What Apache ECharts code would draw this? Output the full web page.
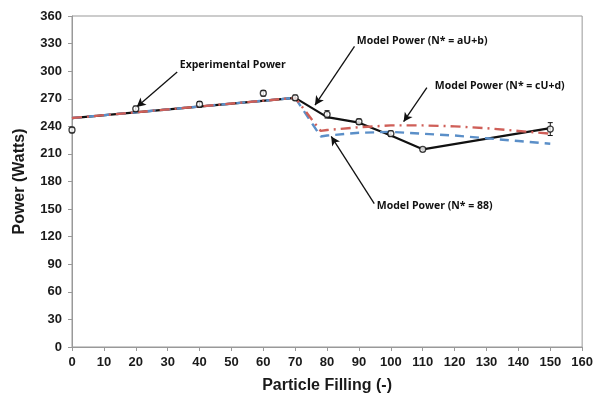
<!DOCTYPE html>
<html>
<head>
<meta charset="utf-8">
<script src="https://cdn.jsdelivr.net/npm/echarts@6/dist/echarts.min.js"></script>
<style>
  html, body { margin: 0; padding: 0; background: #fff; }
  #chart { width: 596px; height: 403px; }
</style>
</head>
<body>
<div id="chart"></div>
<script>
// Particle filling levels (x) and measured / modelled power (W)
const fillExp = [0, 20, 40, 60, 70, 80, 90, 100, 110, 150];
const powerExp = [236, 259, 264, 276, 271, 253, 245, 232, 215, 237];
const errExp = [3, 3, 3, 3, 3, 4, 3, 3, 2, 7];

const fillModel = [0, 70, 80, 90, 100, 110, 150];
const powerModelAUB = [249, 271, 250, 244, 230, 215, 238];

const fillModelCU = [0, 70, 78, 80, 90, 100, 110, 120, 130, 140, 150];
const powerModelCUD = [249, 271, 235, 236, 239, 241, 241, 240, 238, 235, 232];
const powerModel88 = [249, 271, 229, 230, 233, 234, 232, 230, 227, 224, 221];

const xTicks = { min: 0, max: 160, interval: 10 };
const yTicks = { min: 0, max: 360, interval: 30 };

// Callout notes: text anchor, arrow tail and arrow head, in data units
const notes = [
  { text: 'Experimental Power', at: [33.8, 307], from: [33.0, 299], to: [20.3, 261] },
  { text: 'Model Power (N* = aU+b)', at: [89.3, 333], from: [88.6, 327], to: [76.2, 263] },
  { text: 'Model Power (N* = cU+d)', at: [113.8, 284], from: [111.3, 282], to: [104.0, 245] },
  { text: 'Model Power (N* = 88)', at: [95.6, 153], from: [94.8, 156], to: [81.3, 229] }
];

const zip = (xs, ys) => xs.map((x, i) => [x, ys[i]]);

const chart = echarts.init(document.getElementById('chart'), null, { renderer: 'canvas' });

const axisFont = { fontFamily: 'Liberation Sans', fontWeight: 'bold', fontSize: 13, color: '#1a1a1a' };

chart.setOption({
  animation: false,
  backgroundColor: '#fff',
  grid: { left: 72, right: 13, top: 16, bottom: 56, show: true, borderColor: '#999', borderWidth: 1 },
  xAxis: {
    type: 'value', min: xTicks.min, max: xTicks.max, interval: xTicks.interval,
    name: 'Particle Filling (-)', nameLocation: 'middle', nameGap: 31,
    nameTextStyle: { fontFamily: 'Liberation Sans', fontWeight: 'bold', fontSize: 16, color: '#1a1a1a' },
    axisLine: { lineStyle: { color: '#999', width: 1 } },
    axisTick: { show: true, length: 4, lineStyle: { color: '#999' } },
    axisLabel: Object.assign({ margin: 9 }, axisFont),
    splitLine: { show: false }
  },
  yAxis: {
    type: 'value', min: yTicks.min, max: yTicks.max, interval: yTicks.interval,
    name: 'Power (Watts)', nameLocation: 'middle', nameGap: 44, nameRotate: 90,
    nameTextStyle: { fontFamily: 'Liberation Sans', fontWeight: 'bold', fontSize: 16, color: '#1a1a1a' },
    axisLine: { show: true, lineStyle: { color: '#999', width: 1 } },
    axisTick: { show: true, length: 4, lineStyle: { color: '#999' } },
    axisLabel: Object.assign({ margin: 10 }, axisFont),
    splitLine: { show: false }
  },
  series: [
    {
      name: 'Model Power (N* = aU+b)', type: 'line', data: zip(fillModel, powerModelAUB),
      symbol: 'none', lineStyle: { color: '#111', width: 2.2 }, z: 2,
      markLine: {
        silent: true, symbol: ['none', 'arrow'], symbolSize: [7, 9],
        label: { show: false },
        lineStyle: { color: '#111', width: 1.3, type: 'solid' },
        data: notes.map(n => [{ coord: n.from }, { coord: n.to }])
      }
    },
    {
      name: 'Model Power (N* = 88)', type: 'line', data: zip(fillModelCU, powerModel88),
      symbol: 'none', lineStyle: { color: '#5b8fc8', width: 2.4, type: [9, 6] }, z: 3
    },
    {
      name: 'Model Power (N* = cU+d)', type: 'line', data: zip(fillModelCU, powerModelCUD),
      symbol: 'none', lineStyle: { color: '#cf5f58', width: 2.4, type: [10, 5, 2, 5] }, z: 4
    },
    {
      name: 'Error', type: 'custom', z: 5,
      data: fillExp.map((x, i) => [x, powerExp[i] - errExp[i], powerExp[i] + errExp[i]]),
      renderItem: function (params, api) {
        const lo = api.coord([api.value(0), api.value(1)]);
        const hi = api.coord([api.value(0), api.value(2)]);
        const w = 2.5;
        const st = { stroke: '#111', lineWidth: 1 };
        return {
          type: 'group', children: [
            { type: 'line', shape: { x1: lo[0], y1: lo[1], x2: hi[0], y2: hi[1] }, style: st },
            { type: 'line', shape: { x1: lo[0] - w, y1: lo[1], x2: lo[0] + w, y2: lo[1] }, style: st },
            { type: 'line', shape: { x1: hi[0] - w, y1: hi[1], x2: hi[0] + w, y2: hi[1] }, style: st }
          ]
        };
      }
    },
    {
      name: 'Experimental Power', type: 'scatter', data: zip(fillExp, powerExp),
      symbol: 'circle', symbolSize: 6, z: 6,
      itemStyle: { color: '#fff', borderColor: '#111', borderWidth: 1.3 }
    }
  ]
});

// Callout captions placed through the axis scales
chart.setOption({
  graphic: notes.map(n => {
    const p = chart.convertToPixel({ gridIndex: 0 }, n.at);
    return {
      type: 'text', x: p[0], y: p[1], z: 10,
      style: { text: n.text, fill: '#111', font: 'bold 10.5px "Open Sans"', textVerticalAlign: 'middle', textAlign: 'left' }
    };
  })
});
</script>
</body>
</html>
